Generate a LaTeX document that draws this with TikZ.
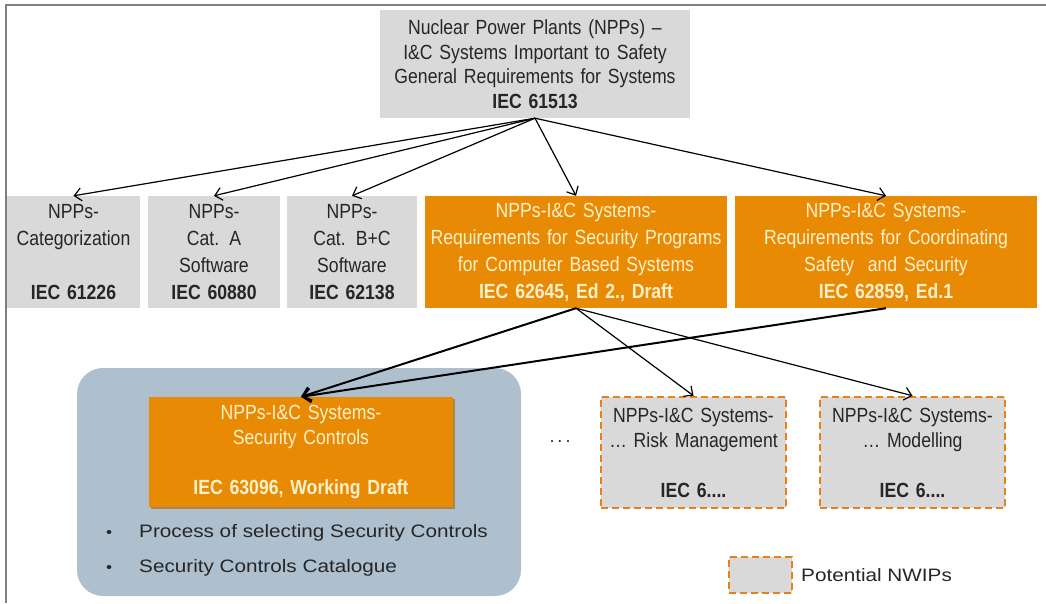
\documentclass[tikz,border=0pt]{standalone}
\usepackage{fontspec}
\setmainfont{Liberation Sans}
\newfontfamily\boxfont[FakeStretch=0.86]{Liberation Sans}
\newfontfamily\widefont[FakeStretch=1.15]{Liberation Sans}
\usetikzlibrary{arrows.meta,shadows}
\definecolor{boxgray}{HTML}{D9D9D9}
\definecolor{iecorange}{HTML}{E98A05}
\definecolor{lighttext}{HTML}{FFF0CC}
\definecolor{darktext}{HTML}{262626}
\definecolor{panelblue}{HTML}{AEBFCE}
\definecolor{dashorange}{HTML}{E8801A}
\definecolor{framegray}{HTML}{808080}
\tikzset{
  basebox/.style={inner sep=0pt, align=center, text width=#1, minimum width=#1},
  graybox/.style={basebox=#1, fill=boxgray, text=darktext,
    font=\boxfont\fontsize{20.5}{27}\selectfont},
  orangebox/.style={basebox=#1, fill=iecorange, text=lighttext,
    font=\boxfont\fontsize{20.5}{27}\selectfont},
  nwipbox/.style={basebox=#1, fill=boxgray, text=darktext, draw=dashorange,
    line width=2.5pt, dash pattern=on 7pt off 4pt,
    font=\boxfont\fontsize{20.5}{25}\selectfont},
  arr/.style={draw=black, line width=1.2pt, -{Straight Barb[length=7pt,width=13pt,line width=1.2pt]}},
  thickarr/.style={draw=black, line width=2pt, -{Straight Barb[length=8pt,width=14pt,line width=2pt]}},
  widetext/.style={font=\widefont\fontsize{18}{20}\selectfont, text=darktext, inner sep=0pt}
}
\begin{document}
\begin{tikzpicture}[x=1pt,y=-1pt]
\useasboundingbox (0,0) rectangle (1046,603);
\draw[framegray, line width=2pt] (6,603) -- (6,5) -- (1046,5);

% top box
\node[graybox=310pt, minimum height=108pt, font=\boxfont\fontsize{20.5}{24.5}\selectfont] (top) at (535,64)
  {Nuclear Power Plants (NPPs) –\\I\&C Systems Important to Safety\\General Requirements for Systems\\\textbf{IEC 61513}};

% second row
\node[graybox=133pt, minimum height=112pt] (b1) at (73.5,252)
  {NPPs-\\Categorization\\\mbox{}\\\textbf{IEC 61226}};
\node[graybox=132pt, minimum height=112pt] (b2) at (214,252)
  {NPPs-\\Cat. A\\Software\\\textbf{IEC 60880}};
\node[graybox=130pt, minimum height=112pt] (b3) at (352,252)
  {NPPs-\\Cat. B+C\\Software\\\textbf{IEC 62138}};
\node[orangebox=302pt, minimum height=112pt] (b4) at (576,252)
  {NPPs-I\&C Systems-\\Requirements for Security Programs\\for Computer Based Systems\\\textbf{IEC 62645, Ed 2., Draft}};
\node[orangebox=302pt, minimum height=112pt] (b5) at (886,252)
  {NPPs-I\&C Systems-\\Requirements for Coordinating\\Safety\ \ and Security\\\textbf{IEC 62859, Ed.1}};

% panel
\node[fill=panelblue, rounded corners=26pt, minimum width=444pt, minimum height=228pt, inner sep=0pt] (panel) at (299,482) {};
\node[orangebox=304pt, minimum height=110pt, font=\boxfont\fontsize{20.5}{25}\selectfont,
  drop shadow={shadow xshift=2pt, shadow yshift=-2pt, fill=iecorange!70!black, opacity=0.6}] (inner) at (301,452)
  {NPPs-I\&C Systems-\\Security Controls\\\mbox{}\\\textbf{IEC 63096, Working Draft}};
\node[widetext, anchor=west] (bul1) at (106,533)
  {{\fontsize{15}{15}\selectfont •}\hspace{27pt}Process of selecting Security Controls};
\node[widetext, anchor=west] (bul2) at (106,568)
  {{\fontsize{15}{15}\selectfont •}\hspace{27pt}Security Controls Catalogue};

% potential NWIPs
\node[font=\fontsize{18}{18}\selectfont, text=darktext] (dots) at (560,442) {.\,.\,.};
\node[nwipbox=185pt, minimum height=111pt] (risk) at (693.5,452.5)
  {NPPs-I\&C Systems-\\… Risk Management\\\mbox{}\\\textbf{IEC 6....}};
\node[nwipbox=185pt, minimum height=111pt] (model) at (912.5,452.5)
  {NPPs-I\&C Systems-\\… Modelling\\\mbox{}\\\textbf{IEC 6....}};

% legend
\node[nwipbox=63pt, minimum height=36pt] (leg) at (760.5,575) {};
\node[widetext, anchor=west] (legtext) at (801,575) {Potential NWIPs};

% connectors
\draw[arr] (top.south) -- (b1.north);
\draw[arr] (top.south) -- (b2.north);
\draw[arr] (top.south) -- (b3.north);
\draw[arr] (top.south) -- (b4.north);
\draw[arr] (top.south) -- (b5.north);
\draw[thickarr] (b4.south) -- (inner.north);
\draw[thickarr] (b5.south) -- (inner.north);
\draw[arr] (b4.south) -- (risk.north);
\draw[arr] (b4.south) -- (model.north);
\end{tikzpicture}
\end{document}
